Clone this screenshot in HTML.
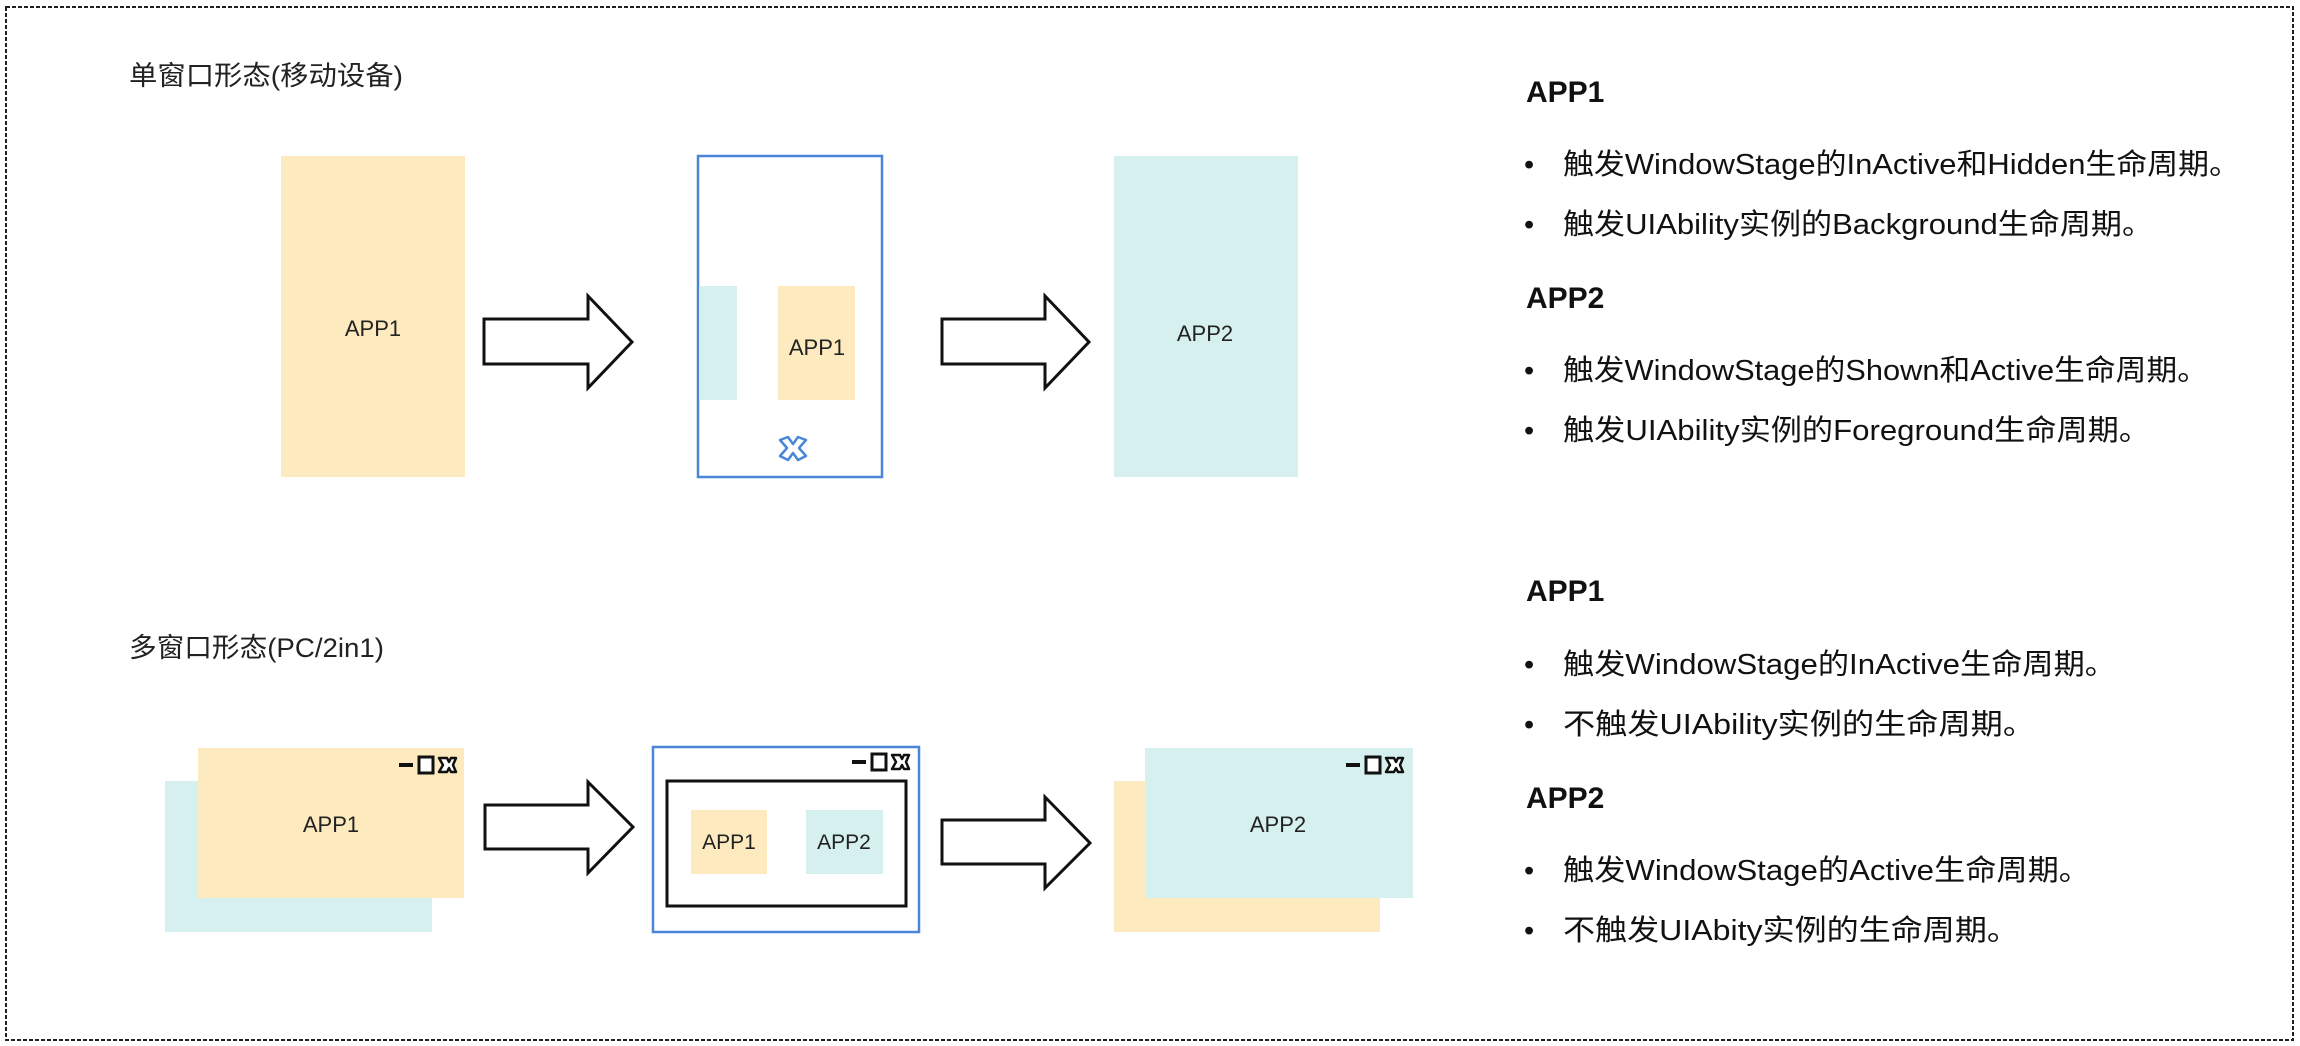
<!DOCTYPE html>
<html><head><meta charset="utf-8"><style>
html,body{margin:0;padding:0;background:#fff;}
body{width:2300px;height:1046px;overflow:hidden;position:relative;}
svg{position:absolute;left:0;top:0;}
</style></head><body>
<svg width="2300" height="1046" viewBox="0 0 2300 1046" xmlns="http://www.w3.org/2000/svg">
<defs>
<g id="wicons">
<rect x="0" y="-2" width="14" height="4" fill="#111"/>
<rect x="20" y="-8" width="14" height="16" fill="#fff" stroke="#111" stroke-width="3"/>
<path d="M41,-7 L49,-7 L51,-3 L53,-7 L58,-7 L55,0 L58,7 L53,7 L51,3 L49,7 L41,7 L45,0 Z" transform="translate(-1,0)" fill="#fff" stroke="#111" stroke-width="2.5" stroke-linejoin="round"/>
</g>
</defs>
<rect x="6" y="7" width="2287" height="1033" fill="none" stroke="#222" stroke-width="2" stroke-dasharray="4,2"/>

<g font-family="Liberation Sans, Noto Sans CJK SC, sans-serif" fill="#222">
<text x="129" y="85" font-size="27" textLength="274" lengthAdjust="spacingAndGlyphs">单窗口形态(移动设备)</text>
<text x="129" y="657" font-size="27" textLength="255" lengthAdjust="spacingAndGlyphs">多窗口形态(PC/2in1)</text>
</g>

<!-- top row -->
<rect x="281" y="156" width="184" height="321" fill="#fdebbf"/>
<text x="373" y="336" font-size="22" text-anchor="middle" font-family="Liberation Sans, sans-serif" fill="#222">APP1</text>

<polygon points="484,319 588,319 588,296 632,342 588,388 588,364 484,364" fill="#fff" stroke="#111" stroke-width="3" stroke-linejoin="miter"/>

<rect x="698" y="156" width="184" height="321" fill="#fff" stroke="#4a86d8" stroke-width="2.5"/>
<rect x="699" y="286" width="38" height="114" fill="#d5f0ee"/>
<rect x="778" y="286" width="77" height="114" fill="#fdebbf"/>
<text x="817" y="355" font-size="22" text-anchor="middle" font-family="Liberation Sans, sans-serif" fill="#222">APP1</text>
<path d="M780,440 L788,437 L793,444 L798,437 L806,440 L799,448 L806,456 L798,460 L793,453 L788,460 L780,456 L787,448 Z" fill="#fff" stroke="#4a86d8" stroke-width="2.5" stroke-linejoin="round"/>

<polygon points="942,319 1045,319 1045,296 1089,342 1045,388 1045,364 942,364" fill="#fff" stroke="#111" stroke-width="3"/>

<rect x="1114" y="156" width="184" height="321" fill="#d5f0ee"/>
<text x="1205" y="341" font-size="22" text-anchor="middle" font-family="Liberation Sans, sans-serif" fill="#222">APP2</text>

<!-- bottom row -->
<rect x="165" y="781" width="267" height="151" fill="#d5f0ee"/>
<rect x="198" y="748" width="266" height="150" fill="#fdebbf"/>
<text x="331" y="832" font-size="22" text-anchor="middle" font-family="Liberation Sans, sans-serif" fill="#222">APP1</text>
<use href="#wicons" x="399" y="765"/>

<polygon points="485,805 588,805 588,782 633,827 588,873 588,849 485,849" fill="#fff" stroke="#111" stroke-width="3"/>

<rect x="653" y="747" width="266" height="185" fill="#fff" stroke="#4a86d8" stroke-width="2.5"/>
<use href="#wicons" x="852" y="762"/>
<rect x="667" y="781" width="239" height="125" fill="#fff" stroke="#111" stroke-width="3"/>
<rect x="691" y="810" width="76" height="64" fill="#fdebbf"/>
<rect x="806" y="810" width="77" height="64" fill="#d5f0ee"/>
<text x="729" y="849" font-size="21" text-anchor="middle" font-family="Liberation Sans, sans-serif" fill="#222">APP1</text>
<text x="844" y="849" font-size="21" text-anchor="middle" font-family="Liberation Sans, sans-serif" fill="#222">APP2</text>

<polygon points="942,820 1045,820 1045,797 1090,843 1045,888 1045,864 942,864" fill="#fff" stroke="#111" stroke-width="3"/>

<rect x="1114" y="781" width="266" height="151" fill="#fdebbf"/>
<rect x="1145" y="748" width="268" height="150" fill="#d5f0ee"/>
<text x="1278" y="832" font-size="22" text-anchor="middle" font-family="Liberation Sans, sans-serif" fill="#222">APP2</text>
<use href="#wicons" x="1346" y="765"/>

<!-- right text -->
<g font-family="Liberation Sans, Noto Sans CJK SC, sans-serif" fill="#111">
<text x="1526" y="102" font-size="30" font-weight="bold">APP1</text>
<text x="1526" y="308" font-size="30" font-weight="bold">APP2</text>
<text x="1526" y="601" font-size="30" font-weight="bold">APP1</text>
<text x="1526" y="808" font-size="30" font-weight="bold">APP2</text>
<g font-size="29" lengthAdjust="spacingAndGlyphs">
<text x="1524" y="174">•</text><text x="1563" y="174" textLength="677" lengthAdjust="spacingAndGlyphs">触发WindowStage的InActive和Hidden生命周期。</text>
<text x="1524" y="234">•</text><text x="1563" y="234" textLength="590" lengthAdjust="spacingAndGlyphs">触发UIAbility实例的Background生命周期。</text>
<text x="1524" y="380">•</text><text x="1563" y="380" textLength="645" lengthAdjust="spacingAndGlyphs">触发WindowStage的Shown和Active生命周期。</text>
<text x="1524" y="440">•</text><text x="1563" y="440" textLength="587" lengthAdjust="spacingAndGlyphs">触发UIAbility实例的Foreground生命周期。</text>
<text x="1524" y="674">•</text><text x="1563" y="674" textLength="553" lengthAdjust="spacingAndGlyphs">触发WindowStage的InActive生命周期。</text>
<text x="1524" y="734">•</text><text x="1563" y="734" textLength="472" lengthAdjust="spacingAndGlyphs">不触发UIAbility实例的生命周期。</text>
<text x="1524" y="880">•</text><text x="1563" y="880" textLength="527" lengthAdjust="spacingAndGlyphs">触发WindowStage的Active生命周期。</text>
<text x="1524" y="940">•</text><text x="1563" y="940" textLength="456" lengthAdjust="spacingAndGlyphs">不触发UIAbity实例的生命周期。</text>
</g>
</g>
</svg>
</body></html>
